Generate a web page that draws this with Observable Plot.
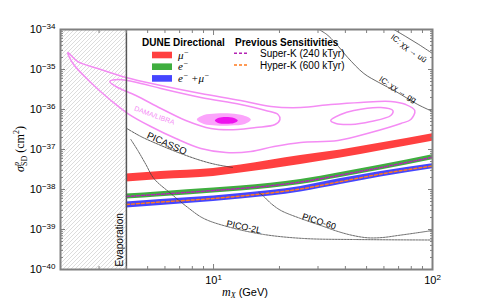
<!DOCTYPE html>
<html><head><meta charset="utf-8">
<script src="https://cdn.jsdelivr.net/npm/d3@7"></script>
<script src="https://cdn.jsdelivr.net/npm/@observablehq/plot@0.6"></script>
<style>
html,body{margin:0;padding:0;background:#fff;}
#chart{width:480px;height:300px;}
</style></head><body><div id="chart"></div>
<script>
// ---------------- data ----------------
const bandMass = [4, 5.75, 10, 13.3, 25, 38.1, 58.1, 100];
const muHigh   = [2.44e-38, 2.82e-38, 3.35e-38, 4.10e-38, 7.08e-38, 9.72e-38, 1.45e-37, 2.47e-37];
const muLow    = [1.54e-38, 1.78e-38, 2.11e-38, 2.58e-38, 4.22e-38, 6.13e-38, 9.33e-38, 1.61e-37];
const eHigh    = [7.72e-39, 8.81e-39, 1.09e-38, 1.22e-38, 1.78e-38, 2.66e-38, 4.10e-38, 7.37e-38];
const eLow     = [5.79e-39, 6.61e-39, 8.18e-39, 9.17e-39, 1.33e-38, 2.00e-38, 3.07e-38, 5.53e-38];
const bothHigh = [4.87e-39, 5.62e-39, 6.88e-39, 7.94e-39, 1.19e-38, 1.88e-38, 2.82e-38, 4.39e-38];
const bothLow  = [3.45e-39, 3.98e-39, 5.01e-39, 5.79e-39, 8.66e-39, 1.33e-38, 2.05e-38, 3.29e-38];
const superK   = [6.68e-39, 7.63e-39, 9.44e-39, 1.06e-38, 1.54e-38, 2.30e-38, 3.55e-38, 6.42e-38];
const hyperK   = [4.22e-39, 4.87e-39, 5.96e-39, 6.88e-39, 1.03e-38, 1.58e-38, 2.44e-38, 3.87e-38];

const picassoMass  = [4.02, 4.66, 5.75, 7.09, 8.75, 10.25, 12.25];
const picassoSigma = [3.35e-37, 2.11e-37, 1.26e-37, 7.94e-38, 5.31e-38, 4.22e-38, 3.55e-38];
const pico2lMass   = [4.19, 4.51, 4.91, 5.34, 6.38, 7.63, 9.03, 12.0, 16.97, 25.8, 43.7, 100];
const pico2lSigma  = [1.78e-37, 9.44e-38, 4.22e-38, 1.88e-38, 7.94e-39, 3.55e-39, 1.88e-39, 1.12e-39, 7.50e-40, 5.96e-40, 5.62e-40, 5.46e-40];
const pico60Mass   = [16.1, 16.97, 18.3, 20.3, 25.0, 30.9, 37.0, 43.3, 50.7, 59.3, 69.4, 83.9, 100];
const pico60Sigma  = [8.41e-39, 6.68e-39, 4.47e-39, 2.99e-39, 1.88e-39, 1.26e-39, 8.91e-40, 7.08e-40, 6.20e-40, 6.31e-40, 7.08e-40, 8.18e-40, 9.44e-40];
const icUUMass     = [66.6, 75.5, 86.6, 100];
const icUUSigma    = [1e-34, 6.68e-35, 4.22e-35, 2.51e-35];
const icGGMass     = [30.3, 32.9, 36.2, 41.0, 48.6, 56.9, 68.0, 85.7, 100];
const icGGSigma    = [1e-34, 7.50e-35, 4.47e-35, 2.0e-35, 7.94e-36, 4.73e-36, 2.82e-36, 1.33e-36, 8.91e-37];

const damaOuterMass  = [2.16, 2.40, 2.96, 3.98, 5.75, 8.75, 13.3, 18.3, 25.0, 34.3, 47.1, 64.5, 75.5, 83.0, 79.6, 71.7, 52.3, 37.0, 25.0, 18.9, 14.8, 11.4, 8.75, 6.73, 5.17, 4.06, 3.40, 2.75, 2.28];
const damaOuterSigma = [2.66e-35, 1.58e-35, 1.06e-35, 6.31e-36, 3.98e-36, 2.51e-36, 1.68e-36, 1.19e-36, 1.12e-36, 1.33e-36, 1.50e-36, 1.58e-36, 1.33e-36, 9.44e-37, 5.62e-37, 4.47e-37, 2.66e-37, 1.68e-37, 1.50e-37, 1.19e-37, 8.91e-38, 8.41e-38, 1.06e-37, 1.88e-37, 3.76e-37, 7.94e-37, 1.68e-36, 4.73e-36, 1.41e-35];
const damaInnerMass  = [3.36, 3.69, 4.66, 5.75, 8.75, 13.3, 17.3, 19.7, 20.1, 19.1, 15.6, 12.9, 9.72, 7.47, 5.75, 4.42, 3.58];
const damaInnerSigma = [5.01e-36, 5.62e-36, 4.47e-36, 3.35e-36, 2.0e-36, 1.33e-36, 9.44e-37, 7.50e-37, 5.62e-37, 4.22e-37, 3.55e-37, 3.16e-37, 3.35e-37, 5.31e-37, 1.06e-36, 2.24e-36, 3.76e-36];
const damaHighMass   = [34.3, 38.1, 43.7, 58.1, 65.9, 64.5, 52.3, 42.4, 36.2];
const damaHighSigma  = [5.31e-37, 7.50e-37, 9.44e-37, 1.12e-36, 9.44e-37, 7.08e-37, 5.01e-37, 4.22e-37, 4.47e-37];
const damaFillMass   = [8.39, 9.03, 10.25, 12.0, 13.75, 14.8, 13.9, 12.0, 10.25, 9.03];
const damaFillSigma  = [5.62e-37, 7.29e-37, 7.94e-37, 7.94e-37, 7.08e-37, 5.62e-37, 4.34e-37, 3.98e-37, 3.98e-37, 4.34e-37];
const damaCoreMass   = [10.14, 10.57, 11.4, 12.4, 12.9, 12.4, 11.4, 10.57];
const damaCoreSigma  = [5.31e-37, 6.20e-37, 6.49e-37, 6.13e-37, 5.31e-37, 4.57e-37, 4.39e-37, 4.55e-37];

const evaporationMass = 4;
const massDomain  = [2, 100];
const sigmaDomain = [1e-40, 1e-34];
const xMajor = [10, 100];
const yMajor = [1e-40, 1e-39, 1e-38, 1e-37, 1e-36, 1e-35, 1e-34];

const legendDune = [
  {label: "μ", sup: "−", label2: "", color: "#ff4040"},
  {label: "e", sup: "−", label2: "", color: "#3fae3f"},
  {label: "e", sup: "−", label2: " +μ", sup2: "−", color: "#4545ff"}
];
const legendPrev = [
  {label: "Super-K (240 kTyr)", color: "#b424b4"},
  {label: "Hyper-K (600 kTyr)", color: "#ff7a1e"}
];

// ---------------- helpers ----------------
const zip = (xs, ys) => xs.map((x, i) => ({x, y: ys[i]}));
const bands = bandMass.map((m, i) => ({m, muHigh: muHigh[i], muLow: muLow[i], eHigh: eHigh[i], eLow: eLow[i],
  bothHigh: bothHigh[i], bothLow: bothLow[i], sk: superK[i], hk: hyperK[i]}));

const xMinor = [];
for (const d of [1, 10]) for (let k = 2; k <= 9; k++) xMinor.push(k * d);
const yMinor = [];
for (let e = -40; e < -34; e++) for (let k = 2; k <= 9; k++) yMinor.push(k * Math.pow(10, e));

const frameGray = "#808080";
const violet = "#f48cf4";
const tickOpts = {tickFormat: () => "", label: null, stroke: frameGray, strokeWidth: 1};

const svg = Plot.plot({
  width: 480, height: 300,
  marginLeft: 60, marginRight: 48, marginTop: 29, marginBottom: 31,
  style: {fontFamily: "'Liberation Sans', Arial, sans-serif", fontSize: "11px", background: "white", color: "black"},
  x: {type: "log", domain: massDomain},
  y: {type: "log", domain: sigmaDomain},
  marks: [
    Plot.rect([{x1: massDomain[0], x2: evaporationMass, y1: sigmaDomain[0], y2: sigmaDomain[1]}],
      {x1: "x1", x2: "x2", y1: "y1", y2: "y2", fill: "url(#hatch)"}),
    // DAMA/LIBRA
    Plot.line(zip(damaFillMass, damaFillSigma), {x: "x", y: "y", curve: "catmull-rom-closed", fill: "#fba4fb", stroke: "none"}),
    Plot.line(zip(damaCoreMass, damaCoreSigma), {x: "x", y: "y", curve: "catmull-rom-closed", fill: "#ee12ee", stroke: "none"}),
    Plot.line(zip(damaOuterMass, damaOuterSigma), {x: "x", y: "y", curve: "catmull-rom-closed", stroke: violet, strokeWidth: 1.5}),
    Plot.line(zip(damaInnerMass, damaInnerSigma), {x: "x", y: "y", curve: "catmull-rom-closed", stroke: violet, strokeWidth: 1.5}),
    Plot.line(zip(damaHighMass, damaHighSigma), {x: "x", y: "y", curve: "catmull-rom-closed", stroke: violet, strokeWidth: 1.5}),
    Plot.text(["DAMA/LIBRA"], {x: 5.37, y: 7.08e-37, text: d => d, rotate: 20, fontSize: 7, fill: violet}),
    // DUNE bands
    Plot.areaY(bands, {x: "m", y1: "muLow", y2: "muHigh", fill: legendDune[0].color, curve: "monotone-x"}),
    Plot.areaY(bands, {x: "m", y1: "eLow", y2: "eHigh", fill: legendDune[1].color, curve: "monotone-x"}),
    Plot.areaY(bands, {x: "m", y1: "bothLow", y2: "bothHigh", fill: legendDune[2].color, curve: "monotone-x"}),
    Plot.line(bands, {x: "m", y: "sk", stroke: legendPrev[0].color, strokeWidth: 1.5, strokeDasharray: "3,2", curve: "monotone-x"}),
    Plot.line(bands, {x: "m", y: "hk", stroke: legendPrev[1].color, strokeWidth: 1.5, strokeDasharray: "3,2", curve: "monotone-x"}),
    // other experiments
    Plot.line(zip(picassoMass, picassoSigma), {x: "x", y: "y", stroke: "#333", strokeWidth: 0.8, strokeDasharray: "2,1", curve: "catmull-rom"}),
    Plot.line(zip(pico2lMass, pico2lSigma), {x: "x", y: "y", stroke: "#444", strokeWidth: 0.8, strokeDasharray: "2,1", curve: "catmull-rom"}),
    Plot.line(zip(pico60Mass, pico60Sigma), {x: "x", y: "y", stroke: "#444", strokeWidth: 0.8, strokeDasharray: "2,1", curve: "catmull-rom"}),
    Plot.line(zip(icUUMass, icUUSigma), {x: "x", y: "y", stroke: "#444", strokeWidth: 0.8, curve: "catmull-rom", clip: true}),
    Plot.line(zip(icGGMass, icGGSigma), {x: "x", y: "y", stroke: "#444", strokeWidth: 0.8, curve: "catmull-rom", clip: true}),
    Plot.text(["PICASSO"], {x: 6.12, y: 1.41e-37, text: d => d, rotate: 24, fontSize: 9.5}),
    Plot.text(["PICO-2L"], {x: 13.75, y: 1.155e-39, text: d => d, rotate: 12, fontSize: 9}),
    Plot.text(["PICO-60"], {x: 30.3, y: 1.58e-39, text: d => d, rotate: 18, fontSize: 9}),
    Plot.text(["IC: χχ → uū"], {x: 77.9, y: 3.35e-35, text: d => d, rotate: 36, fontSize: 8}),
    Plot.text(["IC: χχ → gg"], {x: 69.4, y: 3.16e-36, text: d => d, rotate: 32, fontSize: 8}),
    // evaporation
    Plot.ruleX([evaporationMass], {stroke: "#555", strokeWidth: 1.5}),
    Plot.text(["Evaporation"], {x: 3.75, y: 1.19e-40, text: d => d, rotate: -90, textAnchor: "start", fontSize: 10}),
    // axes
    Plot.axisX(xMajor, {anchor: "bottom", tickSize: 0, tickPadding: 7, tickFormat: d => "10^" + Math.round(Math.log10(d)), label: null, fontSize: 11}),
    Plot.axisY(yMajor, {anchor: "left", tickSize: 0, tickPadding: 5, tickFormat: d => "10^" + Math.round(Math.log10(d)), label: null, fontSize: 11}),
    Plot.axisX(xMajor, {anchor: "bottom", tickSize: -5, ...tickOpts}),
    Plot.axisX(xMinor, {anchor: "bottom", tickSize: -3, ...tickOpts}),
    Plot.axisX(xMajor, {anchor: "top", tickSize: -5, ...tickOpts}),
    Plot.axisX(xMinor, {anchor: "top", tickSize: -3, ...tickOpts}),
    Plot.axisY(yMajor, {anchor: "left", tickSize: -5, ...tickOpts}),
    Plot.axisY(yMinor, {anchor: "left", tickSize: -3, ...tickOpts}),
    Plot.axisY(yMajor, {anchor: "right", tickSize: -5, ...tickOpts}),
    Plot.axisY(yMinor, {anchor: "right", tickSize: -3, ...tickOpts}),
    Plot.frame({stroke: frameGray, strokeWidth: 2})
  ]
});

// ---------------- post: superscript tick labels, labels, legend ----------------
const s = d3.select(svg);
const defs = s.insert("defs", ":first-child");
const pat = defs.append("pattern").attr("id", "hatch").attr("patternUnits", "userSpaceOnUse").attr("width", 4).attr("height", 4);
pat.append("path").attr("d", "M-1,1 l2,-2 M0,4 l4,-4 M3,5 l2,-2").attr("stroke", "#c4c4c4").attr("stroke-width", 0.6);

s.selectAll("text").each(function() {
  const t = this.textContent;
  if (/^10\^-?\d+$/.test(t)) {
    const exp = t.split("^")[1].replace("-", "−");
    const el = d3.select(this);
    el.text("");
    el.append("tspan").text("10");
    el.append("tspan").attr("dy", "-0.5em").style("font-size", "8px").text(exp);
  }
});

const serif = "'Liberation Serif', 'Times New Roman', serif";
const sans = "'Liberation Sans', Arial, sans-serif";
function fs(sel, px) { return sel.style("font-size", px + "px"); }

const yl = fs(s.append("text").attr("transform", "translate(24,149) rotate(-90)").attr("text-anchor", "middle")
  .style("font-family", serif), 12);
yl.append("tspan").style("font-style", "italic").text("σ");
fs(yl.append("tspan").style("font-style", "italic").attr("dy", -5), 8).text("p");
fs(yl.append("tspan").attr("dx", -4).attr("dy", 8), 8).text("SD");
yl.append("tspan").attr("dy", -3).text(" (cm");
fs(yl.append("tspan").attr("dy", -5), 8).text("2");
yl.append("tspan").attr("dy", 5).text(")");

const xl = fs(s.append("text").attr("x", 245).attr("y", 296).attr("text-anchor", "middle"), 11);
fs(xl.append("tspan").style("font-family", serif).style("font-style", "italic"), 12).text("m");
fs(xl.append("tspan").style("font-family", serif).style("font-style", "italic").attr("dy", 2), 8).text("X");
xl.append("tspan").attr("dy", -2).text(" (GeV)");

const lg = s.append("g").attr("text-anchor", "start");
fs(lg.append("text").attr("x", 142).attr("y", 46).style("font-weight", "bold").style("font-family", sans), 10).text("DUNE Directional");
legendDune.forEach((d, i) => {
  const y = 51.7 + i * 11.7;
  lg.append("rect").attr("x", 152).attr("y", y).attr("width", 20).attr("height", 6.6).attr("fill", d.color);
  const t = fs(lg.append("text").attr("x", 178).attr("y", y + 7).style("font-family", serif).style("font-style", "italic"), 11);
  t.append("tspan").text(d.label);
  fs(t.append("tspan").attr("dy", -4), 8).text(d.sup);
  if (d.label2) {
    t.append("tspan").attr("dy", 4).text(d.label2);
    fs(t.append("tspan").attr("dy", -4), 8).text(d.sup2);
  }
});
fs(lg.append("text").attr("x", 235).attr("y", 46).style("font-weight", "bold").style("font-family", sans), 10).text("Previous Sensitivities");
legendPrev.forEach((d, i) => {
  const y = 53.3 + i * 11.7;
  lg.append("line").attr("x1", 234).attr("x2", 248).attr("y1", y).attr("y2", y)
    .attr("stroke", d.color).attr("stroke-width", 1.5).attr("stroke-dasharray", "3,2");
  fs(lg.append("text").attr("x", 260).attr("y", y + 3.5).style("font-family", sans), 10).text(d.label);
});

document.getElementById("chart").appendChild(svg);
</script>
</body></html>
